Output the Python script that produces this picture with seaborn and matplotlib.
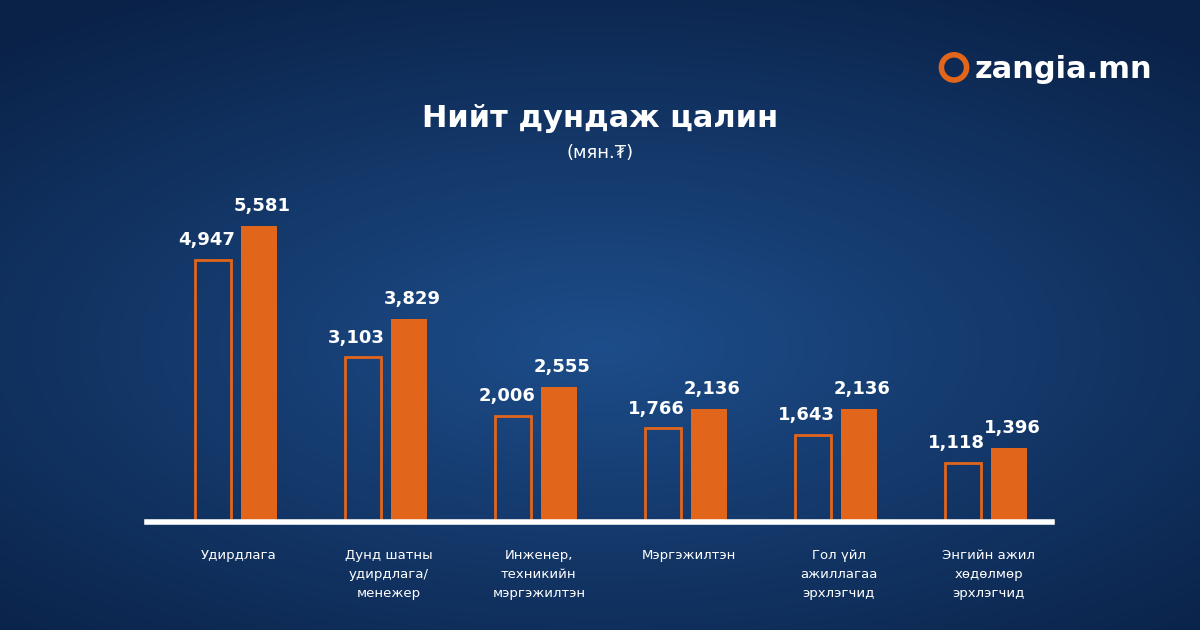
import numpy as np
import matplotlib.pyplot as plt
import pandas as pd
import seaborn as sns
from matplotlib.patches import Ellipse

# data
categories = ['Удирдлага', 'Дунд шатны\nудирдлага/\nменежер', 'Инженер,\nтехникийн\nмэргэжилтэн',
              'Мэргэжилтэн', 'Гол үйл\nажиллагаа\nэрхлэгчид', 'Энгийн ажил\nхөдөлмөр\nэрхлэгчид']
prev_vals = [4947, 3103, 2006, 1766, 1643, 1118]
curr_vals = [5581, 3829, 2555, 2136, 2136, 1396]

orange = '#e2651c'
df = pd.DataFrame({
    'cat': list(range(6)) * 2,
    'val': prev_vals + curr_vals,
    'series': ['prev'] * 6 + ['curr'] * 6,
})

fig = plt.figure(figsize=(12, 6.3), dpi=100)

# background gradient
bg = fig.add_axes([0, 0, 1, 1])
yy, xx = np.mgrid[0:1:300j, 0:1:600j]
r = np.sqrt(((xx - 0.5) * 1.2) ** 2 + ((yy - 0.55) * 1.4) ** 2)
c1 = np.array([0x1d, 0x4d, 0x8a]) / 255
c2 = np.array([0x0a, 0x22, 0x48]) / 255
t = np.clip(r / 0.9, 0, 1)[..., None]
bg.imshow(c1 * (1 - t) + c2 * t, aspect='auto', extent=[0, 1, 0, 1])
bg.axis('off')

ax = fig.add_axes([0.1225, 0.1714, 0.754, 0.67])
ax.patch.set_alpha(0)
sns.barplot(data=df, x='cat', y='val', hue='series', hue_order=['prev', 'curr'],
            dodge=True, width=0.62, ax=ax, legend=False, palette=[orange, orange],
            saturation=1)

for i, p in enumerate(ax.patches):
    cx = p.get_x() + p.get_width() / 2
    p.set_width(0.24)
    p.set_x(cx - 0.12)
    if i < 6:
        p.set_facecolor('none')
        p.set_edgecolor(orange)
        p.set_linewidth(2)
    else:
        p.set_edgecolor('none')
    ax.text(cx - (0.04 if i < 6 else -0.02), p.get_height() + 200, f'{int(p.get_height()):,}',
            ha='center', va='bottom', color='white', fontsize=13, fontweight='bold')

ax.set_xlim(-0.593, 5.44)
ax.set_ylim(0, 7960)
ax.axis('off')
ax.axhline(0, color='white', lw=4, xmin=0, xmax=1, clip_on=False)

for i, c in enumerate(categories):
    ax.text(i + 0.02, -500, c, ha='center', va='top', color='white', fontsize=9.5,
            linespacing=1.6)

fig.text(0.5, 0.812, 'Нийт дундаж цалин', ha='center', va='center', color='white',
         fontsize=22, fontweight='heavy', family='DejaVu Sans')
fig.text(0.5, 0.757, '(мян.₮)', ha='center', va='center', color='white', fontsize=13)

# logo
fig.patches.append(Ellipse((0.795, 0.893), 0.04 * 630 / 1200, 0.04, transform=fig.transFigure,
                           facecolor='none', edgecolor=orange, lw=4))
fig.text(0.812, 0.89, 'zangia.mn', ha='left', va='center', color='white',
         fontsize=22, fontweight='bold')

fig.savefig('out.png', dpi=100)
